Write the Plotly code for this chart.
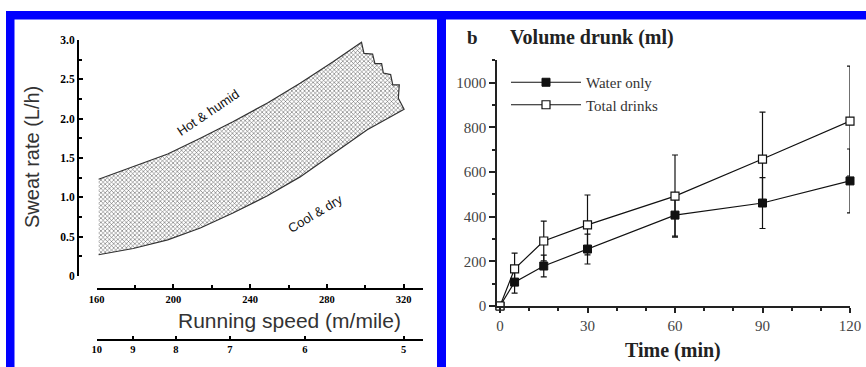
import plotly.graph_objects as go

W, H = 866, 367


def fx(p):
    return p / W


def fy(p):
    return 1 - p / H


# ---------------- Panel a: sweat rate band ----------------
upper_speed = [161, 179, 197, 214, 231, 249, 266, 283, 298]
upper_rate = [1.23, 1.39, 1.55, 1.75, 1.96, 2.20, 2.45, 2.72, 2.97]

edge_speed = [298, 299.3, 303.8, 305.0, 308.5, 309.4, 313.2, 314.3, 317.7, 317.2, 320.2]
edge_rate = [2.97, 2.83, 2.82, 2.70, 2.70, 2.58, 2.56, 2.43, 2.43, 2.26, 2.12]

lower_speed = [161, 179, 197, 214, 231, 249, 266, 283, 301, 320.2]
lower_rate = [0.27, 0.35, 0.46, 0.61, 0.80, 1.02, 1.26, 1.55, 1.86, 2.12]

rate_ticks = [0, 0.5, 1.0, 1.5, 2.0, 2.5, 3.0]
rate_labels = ["0", "0.5", "1.0", "1.5", "2.0", "2.5", "3.0"]
pace_labels = ["10", "9", "8", "7", "6", "5"]
pace_speed = [160, 178.8, 201.3, 229.4, 268.5, 320]

# ---------------- Panel b: volume drunk ----------------
time_min = [0, 5, 15, 30, 60, 90, 120]
water_only = [0, 107, 179, 255, 407, 461, 560]
water_err = [0, 49, 49, 67, 94, 114, 143]
total_drinks = [0, 166, 291, 363, 492, 658, 828]
total_err = [0, 71, 89, 134, 184, 210, 246]

poly_x = upper_speed + edge_speed[1:] + lower_speed[::-1][1:]
poly_y = upper_rate + edge_rate[1:] + lower_rate[::-1][1:]

fig = go.Figure()

fig.add_trace(go.Scatter(
    x=poly_x, y=poly_y, mode="lines", fill="toself",
    line=dict(width=0, color="rgba(0,0,0,0)"),
    fillcolor="rgba(0,0,0,0)",
    fillpattern=dict(shape="x", size=3, solidity=0.33, fgcolor="#5a5a5a", bgcolor="#ffffff"),
    xaxis="x", yaxis="y", showlegend=False, hoverinfo="skip"))

fig.add_trace(go.Scatter(
    x=poly_x, y=poly_y, mode="lines",
    line=dict(width=1.2, color="#333333"),
    xaxis="x", yaxis="y", showlegend=False, hoverinfo="skip"))

fig.add_trace(go.Scatter(x=[None], y=[None], xaxis="x3", yaxis="y",
                         showlegend=False, hoverinfo="skip"))

serif = "Liberation Serif"
sans = "Liberation Sans"

fig.add_trace(go.Scatter(
    x=time_min, y=water_only, mode="lines+markers", name="Water only",
    line=dict(color="#111111", width=1.2),
    marker=dict(symbol="square", size=8, color="#111111", line=dict(color="#111111", width=1)),
    error_y=dict(type="data", array=water_err, width=3, thickness=1.2, color="#111111"),
    xaxis="x2", yaxis="y2", cliponaxis=False))

fig.add_trace(go.Scatter(
    x=time_min, y=total_drinks, mode="lines+markers", name="Total drinks",
    line=dict(color="#111111", width=1.2),
    marker=dict(symbol="square", size=8, color="#ffffff", line=dict(color="#111111", width=1.2)),
    error_y=dict(type="data", array=total_err, width=3, thickness=1.2, color="#111111"),
    xaxis="x2", yaxis="y2", cliponaxis=False))

x_lo = 160.0
x_hi = 160 + (423 - 96.7) / 1.91875

common = dict(showgrid=False, zeroline=False, automargin=False, showline=True)

fig.update_layout(
    template="none",
    width=W, height=H, margin=dict(l=0, r=0, t=0, b=0, pad=0, autoexpand=False),
    paper_bgcolor="white", plot_bgcolor="rgba(0,0,0,0)",
    showlegend=True,
    legend=dict(x=fx(506), y=fy(66), xanchor="left", yanchor="top",
                bgcolor="rgba(0,0,0,0)", itemwidth=70, tracegroupgap=0,
                font=dict(family=serif, size=15, color="#333333")),
    xaxis=dict(domain=[fx(96.7), fx(423)], range=[x_lo, x_hi], anchor="free", position=fy(289.3),
               linewidth=2, linecolor="black",
               tickmode="linear", tick0=160, dtick=40, ticks="inside", ticklen=4, tickwidth=2,
               tickcolor="black",
               minor=dict(tickmode="linear", tick0=160, dtick=20, ticks="inside", ticklen=3,
                          tickwidth=2, tickcolor="black"),
               tickfont=dict(family=serif, size=10.5, color="black", weight="bold"), **common),
    xaxis3=dict(domain=[fx(96.7), fx(423)], range=[x_lo, x_hi], overlaying="x", anchor="free",
                position=fy(339.5), linewidth=2, linecolor="black",
                tickmode="array", tickvals=pace_speed,
                ticktext=pace_labels, ticks="inside", ticklen=3, tickwidth=2, tickcolor="black",
                tickfont=dict(family=serif, size=10.5, color="black", weight="bold"), **common),
    yaxis=dict(domain=[fy(276), fy(40)], range=[0, 3], anchor="free", position=fx(78),
               linewidth=2, linecolor="black",
               tickmode="array", tickvals=rate_ticks, ticktext=rate_labels, ticks="inside",
               ticklen=4, tickwidth=2, tickcolor="black",
               minor=dict(tickmode="linear", tick0=0, dtick=0.25, ticks="inside", ticklen=3,
                          tickwidth=2, tickcolor="black"),
               tickfont=dict(family=serif, size=11.5, color="black", weight="bold"), **common),
    xaxis2=dict(domain=[fx(497), fx(850)], range=[-1.03, 120], anchor="y2",
                linewidth=1.5, linecolor="#222222",
                tickmode="array", tickvals=[0, 30, 60, 90, 120], ticks="outside", ticklen=5,
                tickwidth=1.5, tickcolor="#222222",
                minor=dict(tickmode="array", tickvals=[10, 20, 40, 50, 70, 80, 100, 110],
                           ticks="outside", ticklen=3, tickwidth=1.5, tickcolor="#222222"),
                tickfont=dict(family=serif, size=15, color="#444444"), **common),
    yaxis2=dict(domain=[fy(306), fy(60.3)], range=[0, 1100], anchor="x2",
                linewidth=1.5, linecolor="#222222",
                tickmode="array", tickvals=[0, 200, 400, 600, 800, 1000], ticks="outside",
                ticklen=6, tickwidth=1.5, tickcolor="#222222",
                minor=dict(tickmode="array", tickvals=[100, 300, 500, 700, 900, 1100],
                           ticks="outside", ticklen=3, tickwidth=1.5, tickcolor="#222222"),
                tickfont=dict(family=serif, size=15, color="#444444"), **common),
)

blue = "#0000ff"
for x0, x1, y0, y1 in [(6, W, 11, 19.5), (6, 14.5, 11, H), (437, 446, 11, H)]:
    fig.add_shape(type="rect", xref="paper", yref="paper",
                  x0=fx(x0), x1=fx(x1), y0=fy(y1), y1=fy(y0),
                  fillcolor=blue, line=dict(width=0), layer="above")

annos = [
    dict(text="Sweat rate (L/h)", x=32, y=157, textangle=-90,
         font=dict(family=sans, size=20, color="#333333")),
    dict(text="Running speed (m/mile)", x=289.5, y=320,
         font=dict(family=sans, size=21, color="#333333")),
    dict(text="Hot & humid", x=208, y=112, textangle=-34,
         font=dict(family=sans, size=13, color="#111111")),
    dict(text="Cool & dry", x=315.5, y=214, textangle=-31,
         font=dict(family=sans, size=13, color="#111111")),
    dict(text="b", x=472.5, y=38,
         font=dict(family=serif, size=19, color="#222222", weight="bold")),
    dict(text="Volume drunk (ml)", x=592, y=38,
         font=dict(family=serif, size=20, color="#222222", weight="bold")),
    dict(text="Time (min)", x=673, y=350,
         font=dict(family=serif, size=20, color="#222222", weight="bold")),
]
for a in annos:
    fig.add_annotation(text=a["text"], x=fx(a["x"]), y=fy(a["y"]), xref="paper", yref="paper",
                       xanchor="center", yanchor="middle", showarrow=False,
                       textangle=a.get("textangle", 0), font=a["font"])

fig.write_html(
    "out.html",
    config={"displayModeBar": False},
    post_script="document.body.style.margin='0';document.body.style.overflow='hidden';",
)
